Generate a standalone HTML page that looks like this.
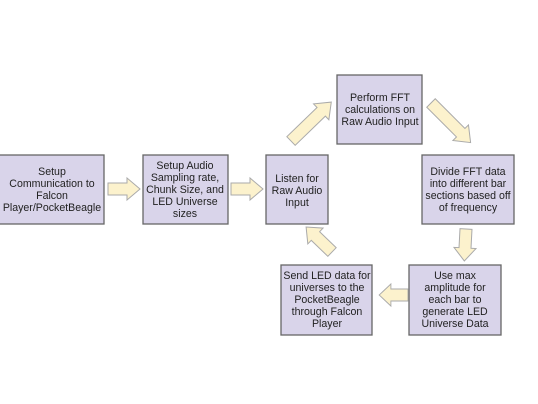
<!DOCTYPE html>
<html><head><style>
html,body{margin:0;padding:0;background:#fff;}
svg{display:block}
text{font-family:"Liberation Sans",Arial,sans-serif;font-size:10.6px;fill:#222;text-anchor:middle}
.b{fill:#d9d4ea;stroke:#666;stroke-width:1.3}
.a{fill:#fcf2cd;stroke:#aaa;stroke-width:1}
</style></head><body>
<svg width="538" height="404" viewBox="0 0 538 404">
<defs>
<path id="ar32" d="M0,-6 L19,-6 L19,-11 L32,0 L19,11 L19,6 L0,6 Z"/>
<path id="ar56" d="M0,-6 L42,-6 L42,-11 L56,0 L42,11 L42,6 L0,6 Z"/>
<path id="ar36" d="M0,-6 L23,-6 L23,-11 L36,0 L23,11 L23,6 L0,6 Z"/>
</defs>
<rect class="b" x="-1" y="155" width="105" height="69"/>
<text x="52" y="175">Setup</text><text x="52" y="187">Communication to</text><text x="52" y="199">Falcon</text><text x="52" y="211">Player/PocketBeagle</text>
<rect class="b" x="143" y="155" width="85" height="69"/>
<text x="185" y="169">Setup Audio</text><text x="185" y="181">Sampling rate,</text><text x="185" y="193">Chunk Size, and</text><text x="185" y="205">LED Universe</text><text x="185" y="217">sizes</text>
<rect class="b" x="266" y="155" width="62" height="69"/>
<text x="297" y="182">Listen for</text><text x="297" y="194">Raw Audio</text><text x="297" y="206">Input</text>
<rect class="b" x="337" y="75" width="85" height="69"/>
<text x="380" y="101">Perform FFT</text><text x="380" y="113">calculations on</text><text x="380" y="125">Raw Audio Input</text>
<rect class="b" x="422" y="155" width="92" height="69"/>
<text x="468" y="175">Divide FFT data</text><text x="468" y="187">into different bar</text><text x="468" y="199">sections based off</text><text x="468" y="211">of frequency</text>
<rect class="b" x="409" y="265" width="92" height="70"/>
<text x="455" y="279">Use max</text><text x="455" y="291">amplitude for</text><text x="455" y="303">each bar to</text><text x="455" y="315">generate LED</text><text x="455" y="327">Universe Data</text>
<rect class="b" x="281" y="265" width="91" height="70"/>
<text x="327" y="279">Send LED data for</text><text x="327" y="291">universes to the</text><text x="327" y="303">PocketBeagle</text><text x="327" y="315">through Falcon</text><text x="327" y="327">Player</text>
<use href="#ar32" class="a" transform="translate(108,189)"/>
<use href="#ar32" class="a" transform="translate(231,189)"/>
<use href="#ar56" class="a" transform="translate(291,141) rotate(-44)"/>
<use href="#ar56" class="a" transform="translate(431,103) rotate(45)"/>
<use href="#ar32" class="a" transform="translate(466,229) rotate(93)"/>
<use href="#ar32" class="a" transform="translate(408,295) rotate(180) scale(0.9,1)"/>
<use href="#ar36" class="a" transform="translate(332,252) rotate(-136)"/>
</svg>
</body></html>
